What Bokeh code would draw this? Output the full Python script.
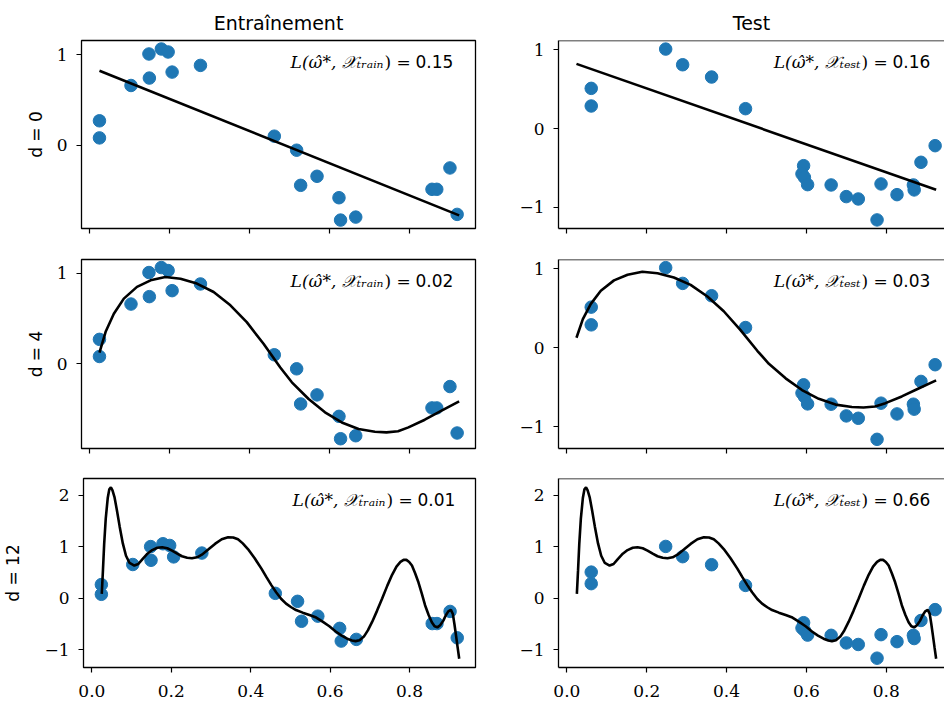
from bokeh.plotting import figure
from bokeh.layouts import column, row
from bokeh.models import FixedTicker, Label, NumeralTickFormatter, Range1d, CustomJSTickFormatter, Span
from bokeh.embed import file_html
from bokeh.resources import INLINE

# ---------------- data ----------------
x_train = [0.024, 0.024, 0.103, 0.148, 0.149, 0.179, 0.196, 0.206, 0.277, 0.462,
           0.518, 0.528, 0.569, 0.624, 0.628, 0.666, 0.857, 0.869, 0.902, 0.920]
y_train = [0.27, 0.081, 0.66, 1.008, 0.742, 1.063, 1.03, 0.808, 0.882, 0.10,
           -0.055, -0.443, -0.343, -0.58, -0.827, -0.794, -0.487, -0.487, -0.251, -0.764]

x_test = [0.061, 0.061, 0.2475, 0.29, 0.3625, 0.4475, 0.593, 0.589, 0.595, 0.603,
          0.662, 0.70, 0.73, 0.777, 0.787, 0.827, 0.868, 0.87, 0.887, 0.9225]
y_test = [0.512, 0.288, 1.011, 0.812, 0.656, 0.254, -0.47, -0.575, -0.618, -0.711,
          -0.715, -0.863, -0.893, -1.159, -0.702, -0.838, -0.715, -0.778, -0.427, -0.216]

d0_x = [0.024, 0.925]
d0_y = [0.823, -0.775]

d4_x = [0.024, 0.04, 0.06, 0.085, 0.118, 0.152, 0.189, 0.227, 0.268, 0.31, 0.352,
        0.393, 0.435, 0.477, 0.506, 0.548, 0.589, 0.631, 0.673, 0.714, 0.743, 0.772,
        0.798, 0.839, 0.881, 0.925]
d4_y = [0.125, 0.36, 0.553, 0.72, 0.85, 0.922, 0.959, 0.94, 0.886, 0.793, 0.646,
        0.46, 0.221, -0.04, -0.204, -0.388, -0.536, -0.647, -0.72, -0.75, -0.757, -0.745,
        -0.702, -0.617, -0.517, -0.414]

d12_x = [0.025, 0.028, 0.031, 0.035, 0.04, 0.044, 0.048, 0.052, 0.057, 0.063, 0.07,
         0.078, 0.086, 0.095, 0.107, 0.117, 0.127, 0.14, 0.152, 0.165, 0.177, 0.19,
         0.202, 0.215, 0.227, 0.24, 0.252, 0.265, 0.277, 0.293, 0.31, 0.327, 0.343,
         0.356, 0.368, 0.38, 0.393, 0.41, 0.427, 0.44, 0.452, 0.464, 0.477, 0.489,
         0.502, 0.514, 0.531, 0.548, 0.565, 0.581, 0.598, 0.614, 0.629, 0.643, 0.655,
         0.664, 0.674, 0.685, 0.695, 0.706, 0.718, 0.731, 0.744, 0.756, 0.767, 0.777,
         0.785, 0.792, 0.799, 0.806, 0.814, 0.8225, 0.831, 0.839, 0.848, 0.856, 0.863,
         0.87, 0.877, 0.885, 0.891, 0.8975, 0.904, 0.909, 0.913, 0.917, 0.921, 0.925]
d12_y = [0.09, 0.55, 1.05, 1.55, 1.95, 2.12, 2.16, 2.10, 1.97, 1.72, 1.40,
         1.07, 0.83, 0.69, 0.64, 0.67, 0.76, 0.87, 0.94, 0.985, 0.996, 0.975,
         0.93, 0.87, 0.82, 0.79, 0.78, 0.80, 0.85, 0.95, 1.06, 1.15, 1.19,
         1.185, 1.15, 1.07, 0.96, 0.78, 0.58, 0.41, 0.26, 0.12, -0.01, -0.10,
         -0.17, -0.225, -0.275, -0.32, -0.37, -0.45, -0.54, -0.64, -0.72, -0.78, -0.815,
         -0.828, -0.81, -0.74, -0.62, -0.45, -0.24, 0.0, 0.25, 0.46, 0.62, 0.71,
         0.75, 0.75, 0.71, 0.64, 0.49, 0.31, 0.09, -0.13, -0.32, -0.46, -0.54,
         -0.56, -0.52, -0.43, -0.33, -0.25, -0.22, -0.30, -0.50, -0.72, -0.95, -1.17]

col_titles = ["Entraînement", "Test"]
degrees = ["0", "4", "12"]
loss_train = ["0.15", "0.02", "0.01"]
loss_test = ["0.16", "0.03", "0.66"]
subsets = ["ₜᵣₐᵢₙ", "ₜₑₛₜ"]
x_ticks = [0.0, 0.2, 0.4, 0.6, 0.8]
y_ticks = [-1, 0, 1, 2]

# ---------------- styling / layout ----------------
BLUE = "#1f77b4"
SERIF = "DejaVu Serif"
SANS = "DejaVu Sans"

x_lim = (-0.021, 0.966)
y_lims = [[(-0.92, 1.157), (-1.268, 1.12)],
          [(-0.935, 1.152), (-1.275, 1.114)],
          [(-1.34, 2.33), (-1.34, 2.33)]]

frame_w = [394, 386]
border_l = [81, 58]
border_r = [25, 0]
frame_h = [188, 189, 189]
border_t = [40, 16, 15]
border_b = [15, 15, 36]
ylabel_standoff = [8, 8, 18]

ppu = frame_w[0] / (x_lim[1] - x_lim[0])

curves_x = [d0_x, d4_x, d12_x]
curves_y = [d0_y, d4_y, d12_y]
pts_x = [x_train, x_test]
pts_y = [y_train, y_test]
losses = [loss_train, loss_test]

ytick_fmt = CustomJSTickFormatter(code="return tick < 0 ? '\u2212' + Math.abs(tick) : String(tick)")

rows = []
for r in range(3):
    figs = []
    for c in range(2):
        x_end = x_lim[1] if c == 0 else x_lim[0] + frame_w[1] / ppu
        y0, y1 = y_lims[r][c]
        p = figure(
            width=border_l[c] + frame_w[c] + border_r[c],
            height=border_t[r] + frame_h[r] + border_b[r],
            x_range=Range1d(x_lim[0], x_end),
            y_range=Range1d(y0, y1),
            output_backend="svg", toolbar_location=None,
            title=col_titles[c] if r == 0 else None,
            min_border_left=border_l[c], min_border_right=border_r[c],
            min_border_top=border_t[r], min_border_bottom=border_b[r],
        )
        p.background_fill_color = "white"
        p.border_fill_color = "white"
        p.xgrid.grid_line_color = None
        p.ygrid.grid_line_color = None

        if r == 0:
            p.title.text_font = SANS
            p.title.text_font_size = "19px"
            p.title.text_font_style = "normal"
            p.title.align = "center"
            p.title.text_color = "black"
            p.title.standoff = 14

        for ax in (p.xaxis[0], p.yaxis[0]):
            ax.major_tick_out = 5
            ax.major_tick_in = 0
            ax.major_tick_line_color = "black"
            ax.major_tick_line_width = 1.2
            ax.minor_tick_line_color = None
            ax.major_label_text_font = SERIF
            ax.major_label_text_font_size = "17px"
            ax.major_label_text_color = "black"

        if c == 0:
            p.outline_line_color = "black"
            p.outline_line_width = 1.3
            p.xaxis.axis_line_color = None
            p.yaxis.axis_line_color = None
        else:
            # the reference is cut at the right edge: frame without a right side
            p.outline_line_color = None
            p.xaxis.axis_line_color = "black"
            p.xaxis.axis_line_width = 1.3
            p.yaxis.axis_line_color = "black"
            p.yaxis.axis_line_width = 1.3
            p.add_layout(Span(location=y1, dimension="width",
                              line_color="black", line_width=1.3))

        p.xaxis.ticker = FixedTicker(ticks=x_ticks)
        p.xaxis.formatter = NumeralTickFormatter(format="0.0")
        p.xaxis.major_label_standoff = 12
        if r < 2:
            p.xaxis.major_label_text_font_size = "0px"
            p.xaxis.major_label_text_color = None

        p.yaxis.ticker = FixedTicker(ticks=y_ticks)
        p.yaxis.formatter = ytick_fmt
        p.yaxis.major_label_standoff = 9
        if c == 0:
            p.yaxis.axis_label = "d = " + degrees[r]
            p.yaxis.axis_label_text_font = SANS
            p.yaxis.axis_label_text_font_size = "17px"
            p.yaxis.axis_label_text_font_style = "normal"
            p.yaxis.axis_label_text_color = "black"
            p.yaxis.axis_label_standoff = ylabel_standoff[r]

        p.scatter(pts_x[c], pts_y[c], size=12.5, color=BLUE, line_color=BLUE)
        p.line(curves_x[r], curves_y[r], line_color="black", line_width=2.6)

        ty = frame_h[r] - 21
        p.add_layout(Label(x=302, y=ty, x_units="screen", y_units="screen",
                           text="L(ω̂*, 𝒳" + subsets[c], text_align="right",
                           text_baseline="middle", text_font=SERIF,
                           text_font_style="italic", text_font_size="17px",
                           text_color="black"))
        p.add_layout(Label(x=303, y=ty, x_units="screen", y_units="screen",
                           text=") =", text_align="left", text_baseline="middle",
                           text_font=SERIF, text_font_size="17px", text_color="black"))
        p.add_layout(Label(x=334, y=ty, x_units="screen", y_units="screen",
                           text=losses[c][r], text_align="left", text_baseline="middle",
                           text_font=SANS, text_font_size="17px", text_color="black"))
        figs.append(p)
    rows.append(row(*figs))

layout = column(*rows)
open("out.html", "w").write(file_html(layout, INLINE))
